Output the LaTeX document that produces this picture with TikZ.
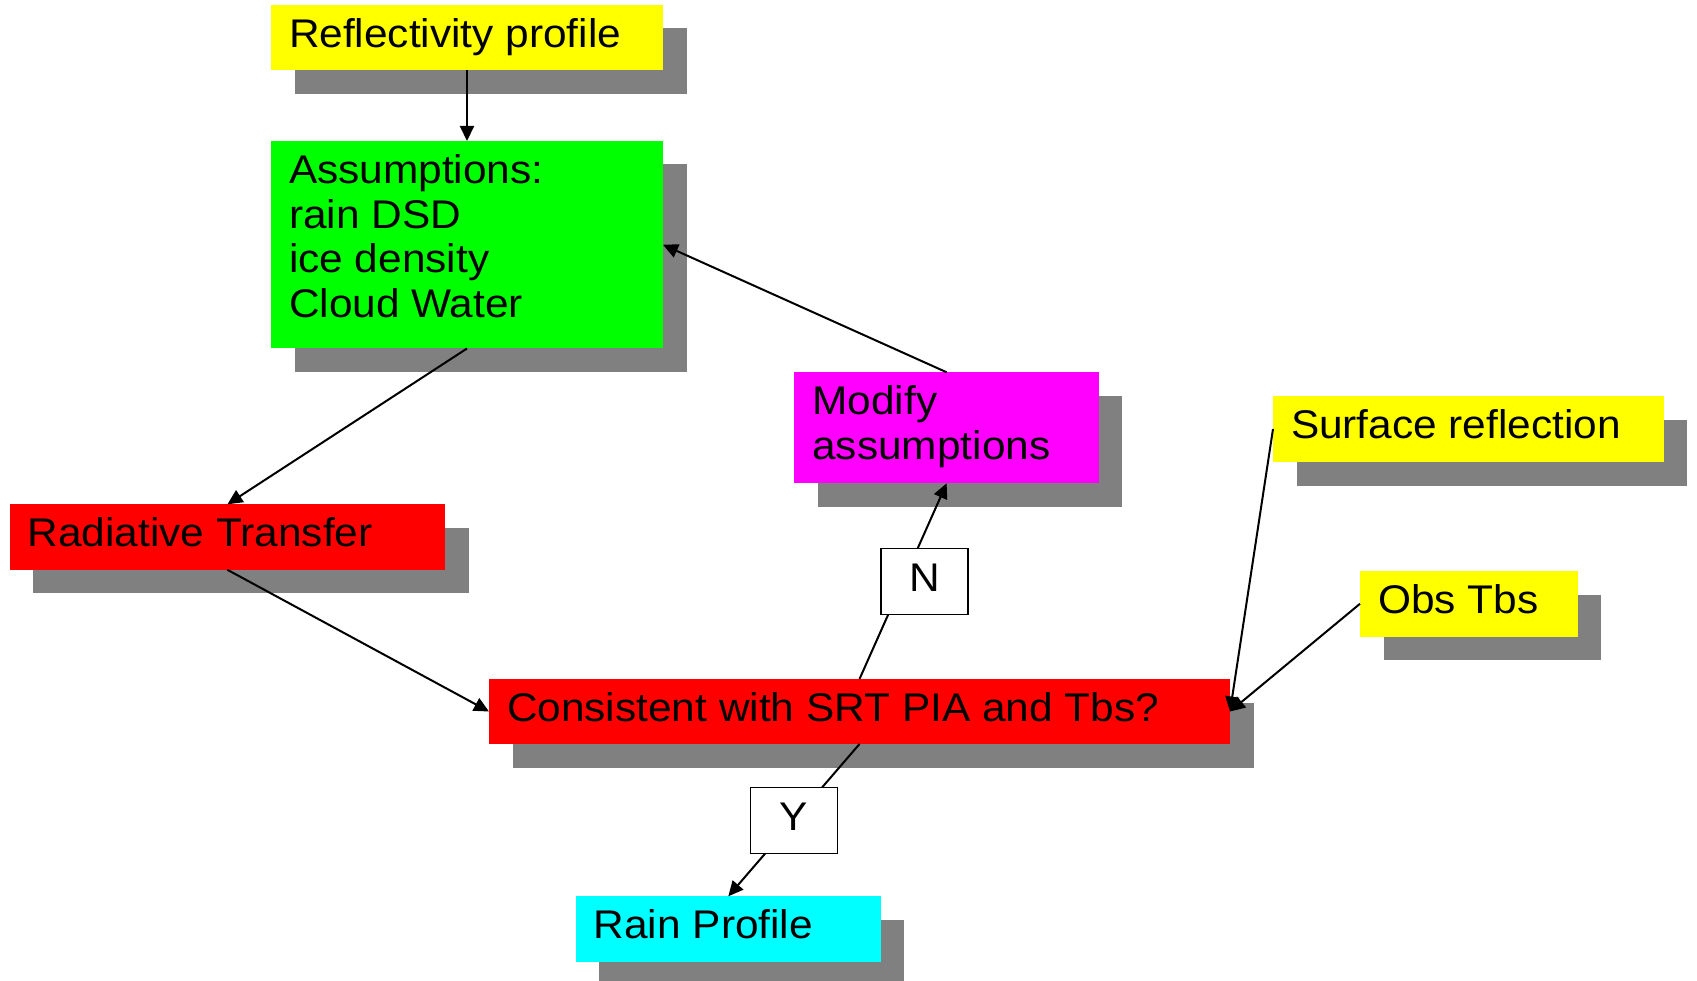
\documentclass[tikz,border=0pt]{standalone}
\usepackage{fontspec}
\setmainfont{Liberation Sans}[FakeStretch=1.06]
\usetikzlibrary{arrows.meta}
\definecolor{shadowgray}{HTML}{808080}
\definecolor{cyel}{HTML}{FFFF00}
\definecolor{cgrn}{HTML}{00FF00}
\definecolor{cred}{HTML}{FF0000}
\definecolor{cmag}{HTML}{FF00FF}
\definecolor{ccya}{HTML}{00FFFF}
% name, x, y, w, h, colour, text
\newcommand\shbox[7]{%
  \fill[fill=shadowgray] (#2+23.5,#3+23.5) rectangle ++(#4,#5);
  \node[boxbg, fill=#6, minimum width=#4pt, minimum height=#5pt, anchor=north west] (#1) at (#2,#3) {};
  \node[boxtext] (#1-t) at (#2+18,#3+42.5) {#7};
}
\newcommand\mlines[1]{\vtop{\baselineskip=44.7pt #1}}
\begin{document}
\begin{tikzpicture}[x=1pt,y=-1pt,
  boxbg/.style={rectangle, inner sep=0pt, outer sep=0pt},
  boxtext/.style={inner sep=0pt, outer sep=0pt, anchor=base west, font=\fontsize{40}{44.7}\selectfont},
  conn/.style={line width=2pt, -{Triangle[length=15pt,width=14pt]}},
  yn/.style={draw=black, line width=1.3pt, fill=white, minimum width=87pt, minimum height=66pt,
    inner sep=0pt, text height=29pt, text depth=8pt, font=\fontsize{40}{44.7}\selectfont}]
\useasboundingbox (0,0) rectangle (1697,981);
\clip (0,0) rectangle (1697,981);

\shbox{refl}{271}{5}{392}{65.5}{cyel}{Reflectivity profile}
\shbox{assum}{271}{141}{392}{207.5}{cgrn}{\mlines{\hbox{Assumptions:}\hbox{rain DSD}\hbox{ice density}\hbox{Cloud Water}}}
\shbox{rad}{9.7}{504.3}{435.5}{65.5}{cred}{Radiative Transfer}
\shbox{mod}{794.4}{372.3}{304.5}{111}{cmag}{\mlines{\hbox{Modify}\hbox{assumptions}}}
\shbox{surf}{1273}{396}{390.5}{66}{cyel}{Surface reflection}
\shbox{obs}{1360}{571}{217.5}{65.5}{cyel}{Obs Tbs}
\shbox{cons}{489}{679}{741}{65}{cred}{Consistent with SRT PIA and Tbs?}
\shbox{rain}{575.8}{896.3}{305}{65.8}{ccya}{Rain Profile}

\draw[conn] (refl.south) -- (assum.north);
\draw[conn] (assum.south) -- (rad.north);
\draw[conn] (rad.south) -- (cons.west);
\draw[conn] (mod.north) -- (assum.east);
\draw[conn] (surf.west) -- (cons.east);
\draw[conn] (obs.west) -- (cons.east);
\draw[conn] (cons.north) -- node[yn, pos=0.5, xshift=21.4pt] (nlab) {N} (mod.south);
\draw[conn] (cons.south) -- node[yn, pos=0.5] (ylab) {Y} (rain.north);
\end{tikzpicture}
\end{document}
